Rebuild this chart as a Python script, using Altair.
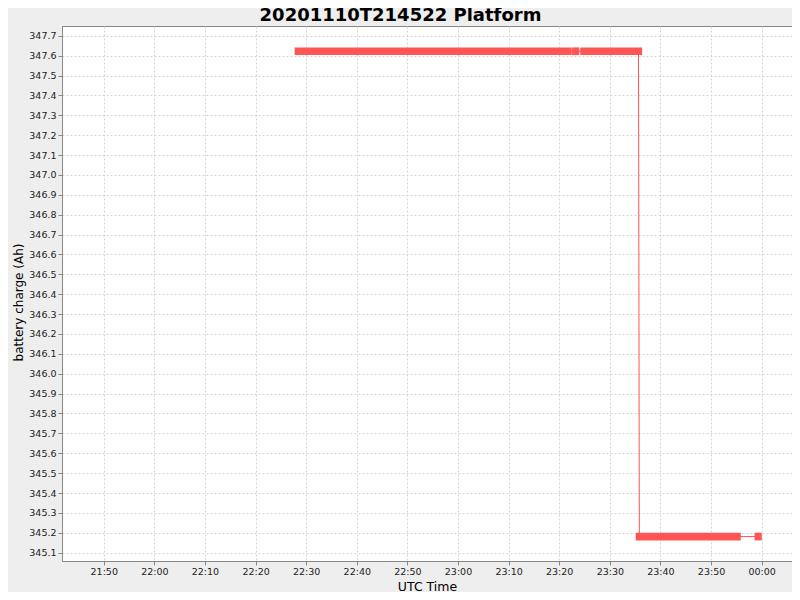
import altair as alt
import pandas as pd

TITLE = "20201110T214522 Platform"

# line vertices (UTC times) and battery charge values
line_time = [
    "2020-11-10T22:28:26Z", "2020-11-10T23:21:46Z", "2020-11-10T23:23:15Z",
    "2020-11-10T23:24:52Z", "2020-11-10T23:35:40Z", "2020-11-10T23:35:50Z",
    "2020-11-10T23:55:10Z", "2020-11-10T23:59:19Z",
]
line_value = [347.622, 347.622, 347.622, 347.622, 347.622, 345.181, 345.181, 345.181]

# runs of densely sampled points (drawn as marker bands)
seg_start = ["2020-11-10T22:28:26Z", "2020-11-10T23:23:15Z", "2020-11-10T23:24:52Z",
             "2020-11-10T23:35:50Z", "2020-11-10T23:59:19Z"]
seg_end = ["2020-11-10T23:21:46Z", "2020-11-10T23:23:15Z", "2020-11-10T23:35:40Z",
           "2020-11-10T23:55:10Z", "2020-11-10T23:59:19Z"]
seg_value = [347.622, 347.622, 347.622, 345.181, 345.181]

y_ticks = [345.1, 345.2, 345.3, 345.4, 345.5, 345.6, 345.7, 345.8, 345.9, 346.0,
           346.1, 346.2, 346.3, 346.4, 346.5, 346.6, 346.7, 346.8, 346.9, 347.0,
           347.1, 347.2, 347.3, 347.4, 347.5, 347.6, 347.7]
x_tick_hm = [(10, 21, 50), (10, 22, 0), (10, 22, 10), (10, 22, 20), (10, 22, 30),
             (10, 22, 40), (10, 22, 50), (10, 23, 0), (10, 23, 10), (10, 23, 20),
             (10, 23, 30), (10, 23, 40), (10, 23, 50), (11, 0, 0)]

line_df = pd.DataFrame({"time": line_time, "charge": line_value})
seg_df = pd.DataFrame({"start": seg_start, "end": seg_end, "charge": seg_value})
title_df = pd.DataFrame({"label": [TITLE]})

RED = "#FF5555"
FONT = "DejaVu Sans"

x_domain = [
    alt.DateTime(year=2020, month=11, date=10, hours=21, minutes=41, seconds=45, utc=True),
    alt.DateTime(year=2020, month=11, date=11, hours=0, minutes=6, seconds=0, utc=True),
]
x_values = [alt.DateTime(year=2020, month=11, date=d, hours=h, minutes=m, utc=True)
            for d, h, m in x_tick_hm]

x_scale = alt.Scale(type="utc", domain=x_domain, nice=False)
y_scale = alt.Scale(domain=[345.058, 347.749], nice=False, zero=False)

x_axis = alt.Axis(title="UTC Time", values=x_values, format="%H:%M",
                  grid=True, gridDash=[2, 2], gridColor="#d4d4d4",
                  tickSize=4, labelPadding=1, labelOverlap=False,
                  titleBaseline="alphabetic", titleY=29, titleFontSize=12.5)
y_axis = alt.Axis(title="battery charge (Ah)", values=y_ticks, format=".1f",
                  grid=True, gridDash=[2, 2], gridColor="#d4d4d4",
                  tickSize=4, labelPadding=2, labelOverlap=False,
                  titlePadding=3, titleY=276, titleFontSize=12)

bands = alt.Chart(seg_df).mark_rule(
    color=RED, strokeWidth=7.7, strokeCap="butt", xOffset=-3.6, x2Offset=3.6
).encode(
    x=alt.X("start:T", scale=x_scale, axis=x_axis),
    x2="end:T",
    y=alt.Y("charge:Q", scale=y_scale, axis=y_axis),
)

line = alt.Chart(line_df).mark_line(color=RED, strokeWidth=1).encode(
    x=alt.X("time:T", scale=x_scale, axis=x_axis),
    y=alt.Y("charge:Q", scale=y_scale, axis=y_axis),
)

title = alt.Chart(title_df).mark_text(
    font=FONT, fontSize=18, fontWeight="bold", color="#000000",
    align="center", baseline="alphabetic"
).encode(
    text="label:N",
    x=alt.value(338.5),
    y=alt.value(-4.7),
)

chart = alt.layer(line, bands, title).properties(
    width=730,
    height=535,
    autosize=alt.AutoSizeParams(type="none"),
    padding={"left": 54, "top": 18, "right": 0, "bottom": 31},
    background="#EEEEEE",
).configure_view(
    fill="white", stroke="#888888", strokeWidth=1
).configure_axis(
    labelFont=FONT, titleFont=FONT, labelFontSize=9.5, labelOverlap=False,
    labelColor="#222222", titleColor="#000000", titleFontWeight="normal",
    domainColor="#888888", tickColor="#888888",
)

chart.save("out.html", embed_options={"renderer": "svg", "actions": False})
